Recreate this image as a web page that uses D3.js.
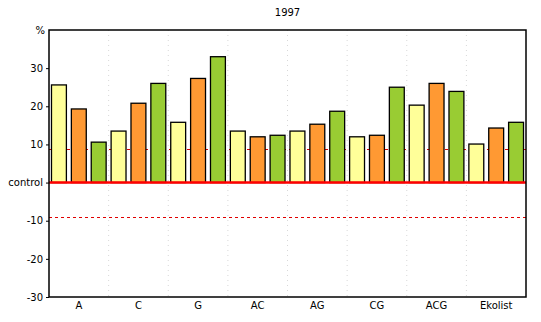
<!DOCTYPE html>
<html><head><meta charset="utf-8">
<script src="https://cdn.jsdelivr.net/npm/d3@7"></script>
<style>body{margin:0;background:#fff}text{font-family:"DejaVu Sans",Verdana,sans-serif}</style>
</head><body><svg id="c" width="541" height="322"></svg>
<script>
const categories = ["A","C","G","AC","AG","CG","ACG","Ekolist"];
const seriesNames = ["s1","s2","s3"];
const yellowVals = [25.6,13.5,15.8,13.5,13.5,12.0,20.3,10.1];
const orangeVals = [19.3,20.8,27.3,12.0,15.3,12.4,26.0,14.3];
const greenVals  = [10.6,26.0,33.0,12.4,18.7,25.0,23.9,15.8];
const yTicks = [-30,-20,-10,0,10,20,30];
const refLines = [8.9,-8.9];
const title = "1997";
const colors = ["#ffff99","#ff9933","#99cc33"];

const svg = d3.select("#c");
const L=49, R=526, T=30, B=297;
const x0 = d3.scaleBand().domain(categories).range([L,R]).padding(0);
const x1 = d3.scaleBand().domain(seriesNames).range([0,x0.bandwidth()]).paddingInner(0.25).paddingOuter(0.125);
const y = d3.scaleLinear().domain([-30,40]).range([B,T]);

svg.append("text").attr("x",(L+R)/2).attr("y",16).attr("text-anchor","middle").attr("font-size",10).text(title);

// vertical dotted grid
svg.append("g").selectAll("line").data(categories.slice(1)).join("line")
  .attr("x1",d=>x0(d)).attr("x2",d=>x0(d)).attr("y1",T).attr("y2",B)
  .attr("stroke","#d8d8d8").attr("stroke-dasharray","1,4");

// reference dashed lines
svg.append("g").selectAll("line").data(refLines).join("line")
  .attr("x1",L).attr("x2",R).attr("y1",d=>Math.round(y(d))+0.5).attr("y2",d=>Math.round(y(d))+0.5)
  .attr("stroke","#e00000").attr("stroke-dasharray","3,3");

const data = categories.map((c,i)=>({c, v:[yellowVals[i],orangeVals[i],greenVals[i]]}));
svg.append("g").selectAll("g").data(data).join("g")
  .attr("transform",d=>`translate(${x0(d.c)},0)`)
  .selectAll("rect").data(d=>d.v.map((v,j)=>({v,j}))).join("rect")
  .attr("x",d=>x1(seriesNames[d.j])).attr("width",x1.bandwidth())
  .attr("y",d=>y(d.v)).attr("height",d=>y(0)-y(d.v))
  .attr("fill",d=>colors[d.j]).attr("stroke","#000").attr("stroke-width",1.3);

// zero line
svg.append("line").attr("x1",L).attr("x2",R).attr("y1",y(0)).attr("y2",y(0))
  .attr("stroke","#ff0000").attr("stroke-width",2.5);

// frame
svg.append("rect").attr("x",L).attr("y",T).attr("width",R-L).attr("height",B-T)
  .attr("fill","none").attr("stroke","#000").attr("stroke-width",1.5);

// y axis
const ya = d3.axisLeft(y).tickValues(yTicks).tickSize(3).tickPadding(3)
  .tickFormat(d=>d===0?"control":d);
const yg = svg.append("g").attr("transform",`translate(${L},0)`).call(ya);
yg.select(".domain").remove();
yg.selectAll("text").attr("font-size",10).attr("fill","#000").attr("font-family","DejaVu Sans, Verdana, sans-serif");
yg.selectAll("line").attr("stroke","#000");
svg.append("text").attr("x",L-4).attr("y",T+4).attr("text-anchor","end").attr("font-size",10).text("%");

// x axis
const xa = d3.axisBottom(x0).tickSize(0).tickPadding(5);
const xg = svg.append("g").attr("transform",`translate(0,${B})`).call(xa);
xg.select(".domain").remove();
xg.selectAll("text").attr("font-size",10).attr("fill","#000").attr("font-family","DejaVu Sans, Verdana, sans-serif");
</script></body></html>
